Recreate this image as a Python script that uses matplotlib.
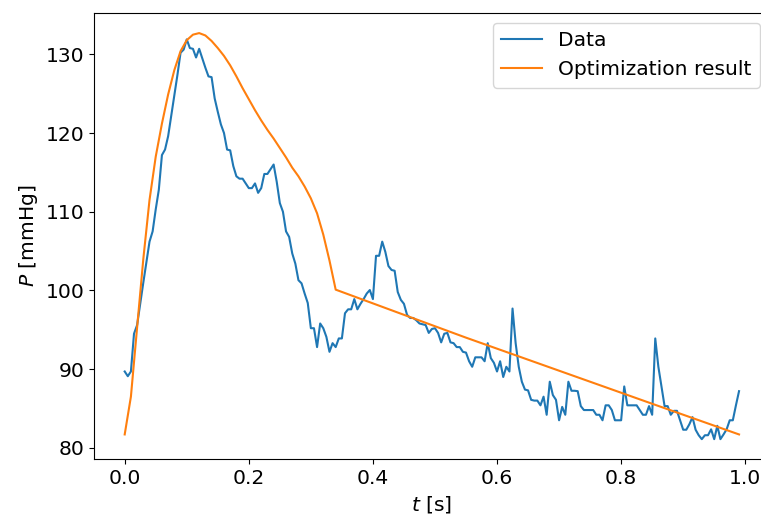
import numpy as np
import matplotlib
matplotlib.use("Agg")
import matplotlib.pyplot as plt

plt.rcParams['font.size'] = 14.6

# measured pressure, sampled every 5 ms
dt = 0.005
p_data = [
    89.7, 89.1, 89.7, 94.5, 95.6, 98.3, 101.0, 103.6, 106.2, 107.5,
    110.3, 112.8, 117.2, 117.9, 119.6, 122.2, 124.8, 127.4, 130.2, 130.6,
    131.9, 130.8, 130.7, 129.6, 130.7, 129.5, 128.3, 127.2, 127.1, 124.4,
    122.7, 121.1, 120.0, 117.9, 117.8, 115.8, 114.5, 114.2, 114.2, 113.6,
    113.0, 113.0, 113.6, 112.4, 113.0, 114.8, 114.8, 115.4, 116.0, 113.8,
    111.1, 110.0, 107.5, 106.8, 104.7, 103.4, 101.3, 100.9, 99.6, 98.4,
    95.2, 95.2, 92.8, 95.8, 95.2, 94.1, 92.2, 93.3, 92.8, 93.9,
    93.9, 97.1, 97.6, 97.6, 98.9, 97.6, 98.3, 98.9, 99.6, 100.05,
    98.9, 104.4, 104.4, 106.2, 104.9, 103.1, 102.6, 102.5, 99.8, 98.8,
    98.3, 96.9, 96.5, 96.5, 96.2, 95.8, 95.7, 95.6, 94.6, 95.1,
    95.2, 94.6, 93.4, 94.5, 94.6, 93.4, 93.3, 92.8, 92.8, 92.2,
    92.1, 91.0, 90.3, 91.5, 91.5, 91.5, 91.0, 93.3, 91.4, 90.8,
    89.7, 91.0, 89.0, 90.3, 89.7, 97.7, 93.3, 90.3, 88.4, 87.4,
    87.3, 86.1, 86.0, 86.0, 85.4, 86.5, 84.2, 88.4, 86.7, 86.1,
    83.5, 85.2, 84.2, 88.4, 87.25, 87.25, 87.2, 85.3, 84.8, 84.8,
    84.8, 84.8, 84.2, 84.2, 83.5, 85.4, 85.4, 84.8, 83.5, 83.5,
    83.5, 87.8, 85.4, 85.4, 85.4, 85.4, 84.8, 84.2, 84.2, 85.3,
    84.2, 93.9, 90.3, 87.8, 85.3, 85.3, 84.2, 84.7, 84.7, 83.5,
    82.3, 82.3, 83.0, 83.9, 82.3, 81.6, 81.1, 81.6, 81.6, 82.35,
    81.1, 82.8, 81.1, 81.7, 82.35, 83.5, 83.5, 85.4, 87.2,
]
t_data = np.arange(len(p_data)) * dt

# fitted model
t_fit = [0.00, 0.01, 0.02, 0.03, 0.04, 0.05, 0.06, 0.07, 0.08, 0.09,
         0.10, 0.11, 0.12, 0.13, 0.14, 0.15, 0.16, 0.17, 0.18, 0.19,
         0.20, 0.21, 0.22, 0.23, 0.24, 0.25, 0.26, 0.27, 0.28, 0.29,
         0.30, 0.31, 0.32, 0.33, 0.34, 0.45, 0.55, 0.65, 0.75, 0.85, 0.99]
p_fit = [81.7, 86.5, 95.3, 104.0, 111.5, 117.0, 121.2, 124.9, 128.0, 130.4,
         131.8, 132.5, 132.7, 132.4, 131.7, 130.8, 129.8, 128.6, 127.2, 125.7,
         124.3, 122.9, 121.6, 120.4, 119.3, 118.1, 116.9, 115.6, 114.5, 113.2,
         111.7, 109.8, 107.1, 103.8, 100.1, 96.9, 94.0, 91.2, 88.4, 85.6, 81.7]

fig = plt.figure(figsize=(7.61, 5.21), dpi=100)
# right part of the axes runs past the edge of the picture, as in the original
ax = fig.add_axes([0.1235, 0.1184, 0.888, 0.8566])

ax.plot(t_data, p_data, label='Data')
ax.plot(t_fit, p_fit, label='Optimization result')

ax.set_ylim(78.54, 135.25)
ax.set_xlabel('$t$ [s]')
ax.set_ylabel('$P$ [mmHg]')
ax.legend(loc='upper right')

fig.savefig('out.png', dpi=100)
